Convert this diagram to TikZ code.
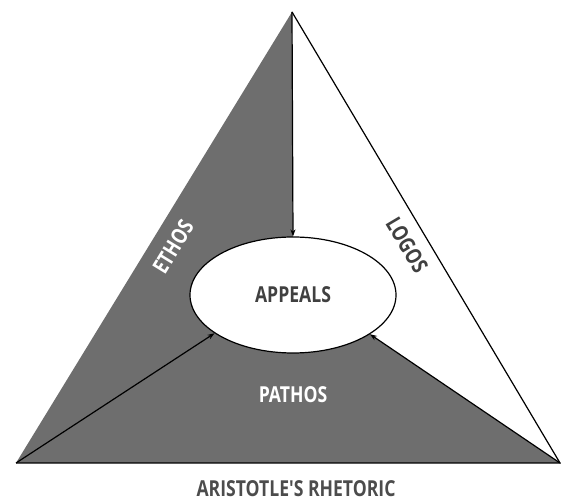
\documentclass[tikz,border=0pt]{standalone}
\usepackage{fontspec}
\newfontfamily\labelfont[FakeStretch=0.8]{Open Sans}
\usepackage{tikz}
\usetikzlibrary{arrows.meta,calc,positioning,shapes.geometric,backgrounds}

\begin{document}
\begin{tikzpicture}[>={Stealth[length=7pt,width=5pt]},x=1pt,y=1pt,
  word/.style={font=\labelfont\bfseries\fontsize{22}{24}\selectfont,inner sep=0pt},
  link/.style={->,line width=1.2pt}]
  \useasboundingbox (0,0) rectangle (561,502);
  \coordinate (T) at (292,490);
  \coordinate (L) at (16,39);
  \coordinate (R) at (560,39);
  \node[ellipse,draw,line width=1.2pt,fill=white,minimum width=206pt,minimum height=116pt,
    inner sep=0pt,word,text=black!75] (app) at (293,207) {APPEALS};
  \begin{scope}[on background layer]
    \fill[black!57] (T) -- (L) -- (R) -- cycle;
    \fill[white] (T) -- (R) -- (app.333) -- (app.center) -- (app.north) -- cycle;
  \end{scope}
  \draw[line width=1.2pt] (T) -- (R) -- (L);
  \draw[link] (T) -- (app.north);
  \draw[link] (L) -- (app.206);
  \draw[link] (R) -- (app.333);
  \node[word,white,rotate=58.5] (eth) at (173,255) {ETHOS};
  \node[word,text=black!75,rotate=-59.3] (log) at (407,257) {LOGOS};
  \node[word,white] (pat) at (293,107) {PATHOS};
  \node[word,text=black!70] (tit) at (296,13) {ARISTOTLE'S RHETORIC};
\end{tikzpicture}
\end{document}
